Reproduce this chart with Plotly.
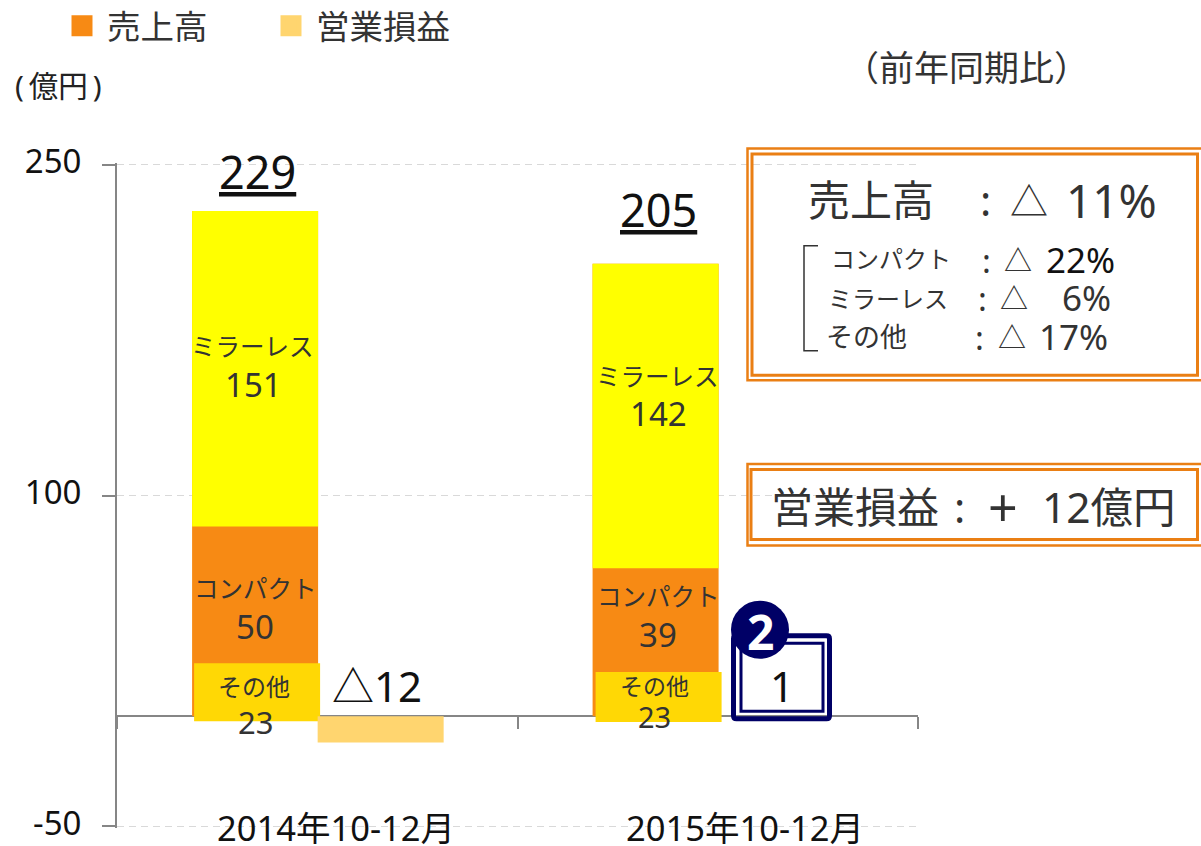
import plotly.graph_objects as go

FONT = "Noto Sans, Noto Sans CJK JP, sans-serif"

# ---- data ----
periods = ["2014年10-12月", "2015年10-12月"]
sales_total = [229, 205]
mirrorless_labels = [151, 142]
compact_labels = [50, 39]
other_labels = [23, 23]
operating_income = [-12, 1]
operating_labels = ["△12", "1"]
# drawn extents
compact_top = [86, 67]
other_top = [24, 20]
other_bottom = [-2.3, -2.7]
y_ticks = [-50, 100, 250]
legend_names = ["売上高", "営業損益"]

# ---- colours ----
ORANGE, YELLOW, GOLD, PALE = "#F78A14", "#FFFF00", "#FFD805", "#FFD56F"
FRAME, NAVY, AXIS, GRID, DARK = "#EA7F14", "#000066", "#868686", "#D9D9D9", "#333333"

# ---- layout geometry ----
W, H = 1201, 846
PAD = 0.7                     # extends the range so the end gridlines are kept
UNIT = (826 - 165) / 300
L, R = 117, 918
T, B = 165 - PAD * UNIT, 826 + PAD * UNIT
PW, PH = R - L, B - T
px = lambda x: (x - L) / PW
py = lambda y: (B - y) / PH
CAT = PW / 2
barw = 126 / CAT

fig = go.Figure()
common = dict(x=periods, width=barw, showlegend=False, hoverinfo="skip")
fig.add_bar(y=sales_total, offset=-0.3125, marker=dict(color=ORANGE, line_width=0), name="売上高", **common)
fig.add_bar(y=[s - c for s, c in zip(sales_total, compact_top)], base=compact_top, offset=-0.3125,
            marker=dict(color=YELLOW, line_width=0), name="ミラーレス", **common)
fig.add_bar(y=[t - b for t, b in zip(other_top, other_bottom)], base=other_bottom,
            offset=[-0.3125 + 2 / CAT, -0.3125 + 3 / CAT],
            marker=dict(color=GOLD, line_width=0), name="その他", **common)
fig.add_bar(y=operating_income, offset=0.001,
            marker=dict(color=[PALE, "rgba(0,0,0,0)"], line_width=0), name="営業損益", **common)

# legend entries
for name, color in zip(legend_names, [ORANGE, PALE]):
    fig.add_scatter(x=[None], y=[None], mode="markers", name=name, hoverinfo="skip",
                    marker=dict(symbol="square", size=16, color=color, line=dict(color=color, width=5)))

shapes = []
def rect(x0, y0, x1, y1, color, width):
    shapes.append(dict(type="rect", xref="paper", yref="paper", x0=px(x0), x1=px(x1),
                       y0=py(y0), y1=py(y1), line=dict(color=color, width=width)))

rect(747.5, 149, 1203, 380.5, FRAME, 2.5)
rect(752, 154.5, 1197.5, 375.5, FRAME, 3)
rect(747.5, 464, 1203, 545.5, FRAME, 2.5)
rect(751, 469.5, 1197.5, 539.5, FRAME, 3)

def P(a, b):
    return f"{px(a):.5f},{py(b):.5f}"

# bracket
shapes.append(dict(type="path", xref="paper", yref="paper",
                   path=f"M{P(818,246)} L{P(804,246)} L{P(804,351)} L{P(818,351)}",
                   line=dict(color=DARK, width=1.5)))
# navy frame with rounded corners
x0, y0, x1, y1, r = 733.5, 635.5, 829.5, 718.5, 3
shapes.append(dict(type="path", xref="paper", yref="paper",
                   path=(f"M{P(x0+r,y0)} L{P(x1-r,y0)} Q{P(x1,y0)} {P(x1,y0+r)} L{P(x1,y1-r)} Q{P(x1,y1)} {P(x1-r,y1)} "
                         f"L{P(x0+r,y1)} Q{P(x0,y1)} {P(x0,y1-r)} L{P(x0,y0+r)} Q{P(x0,y0)} {P(x0+r,y0)} Z"),
                   line=dict(color=NAVY, width=5)))
rect(741, 643, 823, 711, NAVY, 3)
# badge
shapes.append(dict(type="circle", xref="paper", yref="paper", x0=px(731), x1=px(789), y0=py(658.5), y1=py(600.5),
                   fillcolor=NAVY, line_width=0))

ann = []
def txt(x, y, s, size, color=DARK, anchor="center", box=None, **f):
    a = dict(xref="paper", yref="paper", x=px(x), y=py(y), text=s, showarrow=False,
             xanchor=anchor, yanchor="middle", borderpad=0, borderwidth=0,
             font=dict(family=FONT, size=size, color=color, **f))
    if box:
        a.update(height=box, valign="middle")
    ann.append(a)

# category labels
txt(336, 827, periods[0], 34.5, "#111111", box=36)
txt(745, 827, periods[1], 34.5, "#111111", box=36)
# y unit + period note
txt(15, 86, "(\u2009億円\u2009)", 29.5, "#222222", "left")
txt(967, 68, "（前年同期比）", 35, "#333333")
# totals
txt(257, 172, str(sales_total[0]), 45, "#111111", lineposition="under")
txt(658, 210, str(sales_total[1]), 45, "#111111", lineposition="under")
# bar labels
txt(252, 347, "ミラーレス", 24.5); txt(253, 385, str(mirrorless_labels[0]), 33)
txt(657, 377, "ミラーレス", 24.5); txt(658, 414, str(mirrorless_labels[1]), 33)
txt(255, 588, "コンパクト", 24.5); txt(255, 626, str(compact_labels[0]), 33)
txt(658, 596, "コンパクト", 24.5); txt(658, 634, str(compact_labels[1]), 33)
txt(254, 686, "その他", 24, box=30); txt(255, 722, str(other_labels[0]), 31, box=32)
txt(654, 686, "その他", 23, box=28); txt(654, 716, str(other_labels[1]), 29, box=30)
txt(377, 685, operating_labels[0], 42, "#111111")
txt(782, 685, operating_labels[1], 42, "#111111")
txt(760, 631, "<b>2</b>", 48, "#FFFFFF")
# box 1
txt(808, 200, "売上高", 42, anchor="left"); txt(985, 200, ":", 42)
txt(1010, 200, "△", 38, anchor="left"); txt(1066, 200, "11%", 46, anchor="left")
txt(831, 258, "コンパクト", 24, anchor="left", box=34); txt(986, 260, ":", 33, box=34)
txt(1004, 260, "△", 28, anchor="left", box=34); txt(1046, 259, "22%", 35, "#111111", anchor="left", box=36)
txt(828, 298, "ミラーレス", 24, anchor="left", box=34); txt(982, 298, ":", 33, box=34)
txt(1000, 298, "△", 28, anchor="left", box=34); txt(1062, 297, "6%", 35, anchor="left", box=36)
txt(826, 336, "その他", 27, anchor="left", box=34); txt(979, 337, ":", 33, box=34)
txt(998, 337, "△", 28, anchor="left", box=34); txt(1039, 336, "17%", 35, anchor="left", box=36)
# box 2
txt(771, 506, "営業損益", 42, anchor="left"); txt(960, 506, ":", 42)
txt(1003, 506, "+", 52); txt(1042, 506, "12億円", 42.5, anchor="left")

fig.update_layout(
    width=W, height=H, margin=dict(l=L, r=W - R, t=T, b=H - B, autoexpand=False),
    barmode="overlay", paper_bgcolor="white", plot_bgcolor="white",
    showlegend=True, shapes=shapes, annotations=ann,
    font=dict(family=FONT, color="#222222"),
    legend=dict(orientation="h", xref="container", yref="container", x=57 / W, y=1 - 26 / H,
                xanchor="left", yanchor="middle",
                font=dict(family=FONT, size=33.5, color=DARK), itemsizing="trace",
                entrywidth=154, entrywidthmode="pixels", bgcolor="rgba(0,0,0,0)", itemwidth=40),
    xaxis=dict(type="category", range=[-0.5, 1.5], anchor="free", position=py(716),
               showgrid=False, showticklabels=False, tickson="boundaries", ticks="outside",
               ticklen=12, tickwidth=1.5, tickcolor=AXIS, showline=True, linecolor=AXIS, linewidth=2,
               layer="below traces", zeroline=False),
    yaxis=dict(range=[-50 - PAD, 250 + PAD], tickvals=y_ticks, ticktext=[str(v) for v in y_ticks],
               ticks="outside", ticklen=13, tickwidth=1.5, tickcolor=AXIS, showline=True,
               linecolor=AXIS, linewidth=2, gridcolor=GRID, griddash="7px,5px", gridwidth=1, zeroline=False,
               tickfont=dict(family=FONT, size=33, color="#111111"), layer="below traces",
               ticklabelstandoff=14, ticklabelshift=-3, ticklabeloverflow="allow"),
)

fig.write_html("out.html", config=dict(displayModeBar=False),
               post_script="document.body.style.margin='0';document.body.style.overflow='hidden';")
